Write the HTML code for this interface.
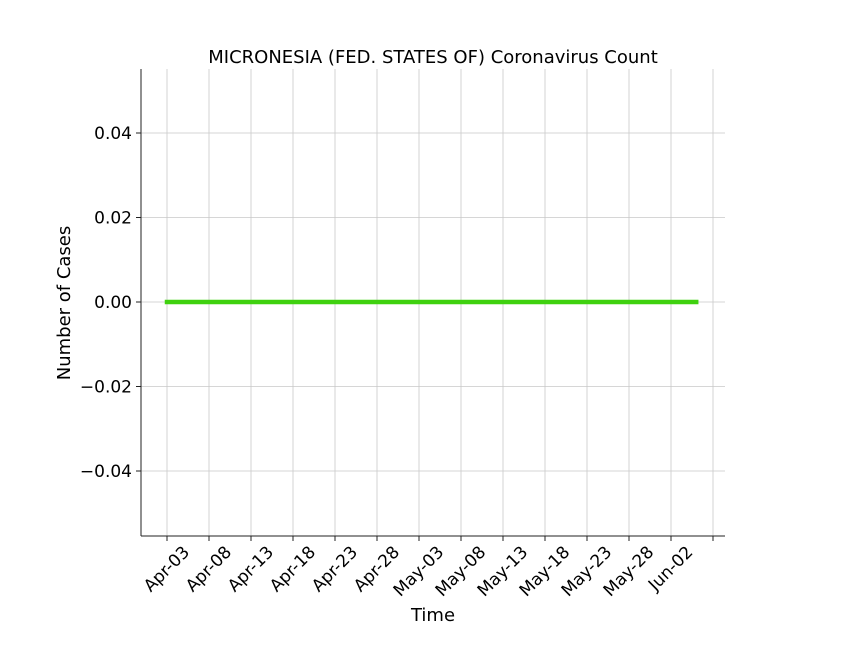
<!DOCTYPE html>
<html><head><meta charset="utf-8"><style>body{margin:0;background:#fff}svg{display:block;font-family:"DejaVu Sans","Liberation Sans",sans-serif}</style></head>
<body>
<svg id="c" width="864" height="648"></svg>
<script>
const tickLabels=["Apr-03","Apr-08","Apr-13","Apr-18","Apr-23","Apr-28","May-03","May-08","May-13","May-18","May-23","May-28","Jun-02",""];
const yTicks=[-0.04,-0.02,0.00,0.02,0.04];
const yTickLabels=["\u22120.04","\u22120.02","0.00","0.02","0.04"];
const seriesDays=64; // Apr-03 .. Jun-05
const seriesValues=new Array(seriesDays).fill(0);
const L=141,R=725,T=69,B=536;
const x=d=>167+d*8.4;
const y=v=>302-v*4225;
const s=document.getElementById('c');const NS='http://www.w3.org/2000/svg';
function mk(t,a,txt){const e=document.createElementNS(NS,t);for(const k in a)e.setAttribute(k,a[k]);if(txt!==undefined)e.textContent=txt;s.appendChild(e);return e;}
tickLabels.forEach((lab,i)=>{const px=x(i*5);
const g=mk('line',{x1:px,x2:px,y1:T,y2:B,stroke:'#c8c8c8','stroke-width':0.8});

const t=mk('line',{x1:px,x2:px,y1:B,y2:B+5,stroke:'#222','stroke-width':1});

if(lab){const tx=mk('text',{x:px,y:0,'font-size':17,'text-anchor':'middle','dominant-baseline':'central',fill:'#000'},lab);

const w=tx.getComputedTextLength();const h=(w+13)*0.7071;const cy=B+9+h/2;
tx.setAttribute('y',cy);tx.setAttribute('transform',`rotate(-45 ${px} ${cy})`);}
});
yTicks.forEach((v,i)=>{const py=y(v);
const g=mk('line',{x1:L,x2:R,y1:py,y2:py,stroke:'#c8c8c8','stroke-width':0.8});

const t=mk('line',{x1:L-5,x2:L,y1:py,y2:py,stroke:'#222','stroke-width':1});

const tx=mk('text',{x:L-9,y:py+6,'font-size':17,'text-anchor':'end',fill:'#000'},yTickLabels[i]);

});
const pts=seriesValues.map((v,i)=>x(i)+','+y(v)).join(' ');
const pl=mk('polyline',{points:pts,fill:'none',stroke:'#3fd10f','stroke-width':4.5,'stroke-linecap':'square'});

const a1=mk('line',{x1:L,x2:L,y1:T,y2:B,stroke:'#222','stroke-width':1});

const a2=mk('line',{x1:L,x2:R,y1:B,y2:B,stroke:'#222','stroke-width':1});

const ti=mk('text',{x:433,y:63,'font-size':18,'text-anchor':'middle'},'MICRONESIA (FED. STATES OF) Coronavirus Count');

const xt=mk('text',{x:433,y:621,'font-size':18,'text-anchor':'middle'},'Time');

const yt=mk('text',{x:70,y:303,'font-size':18,'text-anchor':'middle',transform:'rotate(-90 70 303)'},'Number of Cases');

</script>
</body></html>
